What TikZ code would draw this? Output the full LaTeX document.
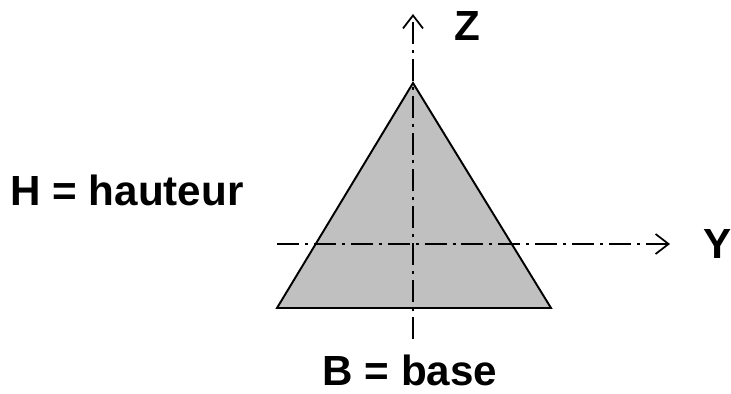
\documentclass[tikz,border=0pt]{standalone}
\usepackage{fontspec}
\setmainfont{Liberation Sans}
\definecolor{grisSection}{RGB}{192,192,192}
\usetikzlibrary{arrows.meta}

\begin{document}
\begin{tikzpicture}[
    x=0.02cm, y=-0.02cm,
    font=\fontsize{24}{28}\selectfont\bfseries,
    section/.style={
        draw=black,
        fill=grisSection,
        line width=1.1pt
    },
    axe/.style={
        -{Straight Barb[length=0.26cm,width=0.4cm,line width=1pt]},
        line width=1.1pt,
        dash pattern=on 12.5pt off 3.4pt on 1.7pt off 3.4pt
    },
    etiquette/.style={
        inner sep=0pt,
        anchor=center
    }
]
\useasboundingbox (0,0) rectangle (731,394);

% TRIANGLE
\coordinate (sommet) at (413,83);
\coordinate (basegauche) at (277,308);
\coordinate (basedroite) at (551,308);
\filldraw[section] (sommet) -- (basegauche) -- (basedroite) -- cycle;

% AXES
\coordinate (zbas) at (413,339);
\coordinate (zhaut) at (413,14);
\coordinate (ygauche) at (277,244);
\coordinate (ydroite) at (670,244);
\draw[axe] (zbas) -- (zhaut);
\draw[axe] (ygauche) -- (ydroite);

% TEXTES
\node[etiquette] (z) at (467,26) {Z};
\node[etiquette] (y) at (718,244) {Y};
\node[etiquette] (hauteur) at (127,190) {H = hauteur};
\node[etiquette] (base) at (410,370) {B = base};

\end{tikzpicture}
\end{document}
